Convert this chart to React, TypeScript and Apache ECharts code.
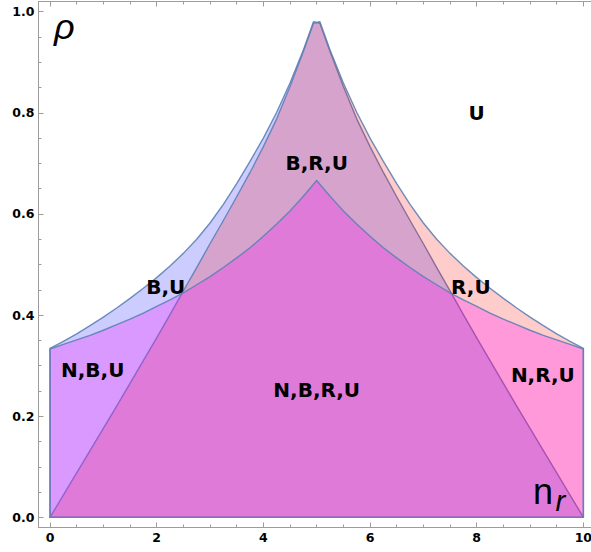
import React, { useEffect, useRef } from "react";
import * as echarts from "echarts";

// ---- boundary curves (n_r, rho) ----
const nLeft = [0, 0.25, 0.5, 0.75, 1, 1.25, 1.5, 1.75, 2, 2.25, 2.5, 2.75, 3, 3.25, 3.5, 3.75, 4, 4.25, 4.5, 4.75, 4.94];
const nRight = [5.06, 5.25, 5.5, 5.75, 6, 6.25, 6.5, 6.75, 7, 7.25, 7.5, 7.75, 8, 8.25, 8.5, 8.75, 9, 9.25, 9.5, 9.75, 10];

// upper boundary of region B (left half)
const upperBLeft = [0.334, 0.348, 0.363, 0.379, 0.396, 0.414, 0.433, 0.453, 0.474, 0.497, 0.522, 0.55, 0.582, 0.619, 0.66, 0.704, 0.75, 0.801, 0.859, 0.924, 0.98];
// right edge of region B (right half)
const rightEdgeB = [0.977, 0.921, 0.852, 0.788, 0.733, 0.682, 0.634, 0.587, 0.541, 0.494, 0.448, 0.401, 0.355, 0.31, 0.265, 0.22, 0.176, 0.132, 0.088, 0.044, 0];
// left edge of region R (left half)
const leftEdgeR = [0, 0.044, 0.088, 0.132, 0.176, 0.22, 0.265, 0.31, 0.355, 0.401, 0.448, 0.494, 0.541, 0.587, 0.634, 0.682, 0.733, 0.788, 0.852, 0.921, 0.977];
// upper boundary of region R (right half)
const upperRRight = [0.98, 0.924, 0.859, 0.801, 0.75, 0.704, 0.66, 0.619, 0.582, 0.55, 0.522, 0.497, 0.474, 0.453, 0.433, 0.414, 0.396, 0.379, 0.363, 0.348, 0.334];

// upper boundary of region N
const nLower = [0, 0.25, 0.5, 0.75, 1, 1.25, 1.5, 1.75, 2, 2.25, 2.5, 2.75, 3, 3.25, 3.5, 3.75, 4, 4.25, 4.5, 4.75, 5,
  5.25, 5.5, 5.75, 6, 6.25, 6.5, 6.75, 7, 7.25, 7.5, 7.75, 8, 8.25, 8.5, 8.75, 9, 9.25, 9.5, 9.75, 10];
const lowerN = [0.333, 0.342, 0.351, 0.36, 0.37, 0.381, 0.392, 0.404, 0.417, 0.43, 0.444, 0.46, 0.476, 0.494, 0.513, 0.533, 0.556, 0.58, 0.606, 0.635, 0.666,
  0.635, 0.606, 0.58, 0.556, 0.533, 0.513, 0.494, 0.476, 0.46, 0.444, 0.43, 0.417, 0.404, 0.392, 0.381, 0.37, 0.36, 0.351, 0.342, 0.333];

// ---- region labels ----
const labelTexts = ["U", "B,R,U", "B,U", "R,U", "N,B,U", "N,B,R,U", "N,R,U"];
const labelN = [8.0, 5.0, 2.17, 7.89, 0.8, 5.0, 9.24];
const labelRho = [0.8, 0.7, 0.456, 0.455, 0.291, 0.252, 0.281];

// ---- ticks ----
const xMajor = [0, 2, 4, 6, 8, 10];
const xMinor = [0.5, 1, 1.5, 2.5, 3, 3.5, 4.5, 5, 5.5, 6.5, 7, 7.5, 8.5, 9, 9.5];
const yMajor = [0, 0.2, 0.4, 0.6, 0.8, 1];
const yMinor = [0.05, 0.1, 0.15, 0.25, 0.3, 0.35, 0.45, 0.5, 0.55, 0.65, 0.7, 0.75, 0.85, 0.9, 0.95];

const X_MIN = -0.216;
const X_MAX = 10.216;
const Y_MIN = -0.02;
const Y_MAX = 1.02;

const FRAME = "#9c9c9c";
const EDGE = "rgba(94,129,181,0.9)";
const TICK_FONT = "DejaVu Sans";

// axis titles (text, pixel placement, style)
const titleTexts = ["ρ", "n", "r"];
const titleStyles = [
  { x: 54, y: 8, size: 36, italic: true },
  { x: 533, y: 473, size: 36, italic: false },
  { x: 555.5, y: 486, size: 29, italic: true },
];

function polygonSeries(points: number[][], fill: string) {
  return {
    type: "custom",
    xAxisIndex: 0,
    yAxisIndex: 0,
    silent: true,
    clip: false,
    data: [[0, 0]],
    renderItem: (_params: any, api: any) => ({
      type: "polygon",
      shape: { points: points.map((p) => api.coord(p)) },
      style: { fill, stroke: EDGE, lineWidth: 1.4, lineJoin: "round" },
    }),
  };
}

function xAxisDef(position: string, ticks: number[], len: number, showLine: boolean, showLabel: boolean) {
  return {
    type: "value",
    position,
    min: X_MIN,
    max: X_MAX,
    axisLine: { show: showLine, onZero: false, lineStyle: { color: FRAME, width: 1 } },
    axisTick: { show: true, inside: true, length: len, customValues: ticks, lineStyle: { color: FRAME, width: 1 } },
    axisLabel: showLabel
      ? {
          show: true,
          customValues: ticks,
          margin: 3,
          color: "#000",
          fontFamily: TICK_FONT,
          fontWeight: "bold",
          fontSize: 12.5,
          formatter: (v: number) => String(Math.round(v)),
        }
      : { show: false },
    splitLine: { show: false },
  };
}

function yAxisDef(position: string, ticks: number[], len: number, showLine: boolean, showLabel: boolean) {
  return {
    type: "value",
    position,
    min: Y_MIN,
    max: Y_MAX,
    axisLine: { show: showLine, onZero: false, lineStyle: { color: FRAME, width: 1 } },
    axisTick: { show: true, inside: true, length: len, customValues: ticks, lineStyle: { color: FRAME, width: 1 } },
    axisLabel: showLabel
      ? {
          show: true,
          customValues: ticks,
          margin: 4,
          color: "#000",
          fontFamily: TICK_FONT,
          fontWeight: "bold",
          fontSize: 12.5,
          formatter: (v: number) => v.toFixed(1),
        }
      : { show: false },
    splitLine: { show: false },
  };
}

export default function App() {
  const ref = useRef<HTMLDivElement>(null);

  useEffect(() => {
    if (!ref.current) return;
    const chart = echarts.init(ref.current, undefined, { renderer: "svg" });

    const polyB: number[][] = [[0, 0]]
      .concat(nLeft.map((n, i) => [n, upperBLeft[i]]))
      .concat(nRight.map((n, i) => [n, rightEdgeB[i]]));
    const polyR: number[][] = nLeft
      .map((n, i) => [n, leftEdgeR[i]])
      .concat(nRight.map((n, i) => [n, upperRRight[i]]))
      .concat([[10, 0]]);
    const polyN: number[][] = [[0, 0]]
      .concat(nLower.map((n, i) => [n, lowerN[i]]))
      .concat([[10, 0]]);

    const option: any = {
      animation: false,
      textStyle: { fontFamily: TICK_FONT },
      grid: { left: 38.5, top: 1.5, width: 556.4, height: 526, outerBoundsMode: "none", containLabel: false },
      xAxis: [
        xAxisDef("bottom", xMajor, 5, true, true),
        xAxisDef("bottom", xMinor, 3, false, false),
        xAxisDef("top", xMajor, 5, true, false),
        xAxisDef("top", xMinor, 3, false, false),
      ],
      yAxis: [
        yAxisDef("left", yMajor, 5, true, true),
        yAxisDef("left", yMinor, 3, false, false),
      ],
      series: [
        polygonSeries(polyB, "rgba(0,0,255,0.2)"),
        polygonSeries(polyR, "rgba(255,0,0,0.2)"),
        polygonSeries(polyN, "rgba(255,0,255,0.25)"),
        {
          type: "custom",
          xAxisIndex: 0,
          yAxisIndex: 0,
          silent: true,
          clip: false,
          z: 5,
          data: labelN.map((n, i) => [n, labelRho[i], i]),
          renderItem: (_params: any, api: any) => {
            const p = api.coord([api.value(0), api.value(1)]);
            return {
              type: "text",
              x: p[0],
              y: p[1],
              style: {
                text: labelTexts[api.value(2)],
                fill: "#000",
                fontFamily: "DejaVu Sans",
                fontWeight: "bold",
                fontSize: 20,
                align: "center",
                verticalAlign: "middle",
              },
            };
          },
        },
        {
          type: "custom",
          xAxisIndex: 0,
          yAxisIndex: 0,
          silent: true,
          clip: false,
          z: 6,
          data: titleTexts.map((_t, i) => [0, 0, i]),
          renderItem: (_params: any, api: any) => {
            const i = api.value(2);
            const s = titleStyles[i];
            return {
              type: "text",
              x: s.x,
              y: s.y,
              style: {
                text: titleTexts[i],
                fill: "#000",
                fontFamily: "Liberation Sans",
                fontStyle: s.italic ? "italic" : "normal",
                fontSize: s.size,
                align: "left",
                verticalAlign: "top",
              },
            };
          },
        },
      ],
    };

    chart.setOption(option);
    return () => chart.dispose();
  }, []);

  return (
    <div
      ref={ref}
      style={{ position: "fixed", left: 0, top: 0, width: 591, height: 552, background: "#fff" }}
    />
  );
}
